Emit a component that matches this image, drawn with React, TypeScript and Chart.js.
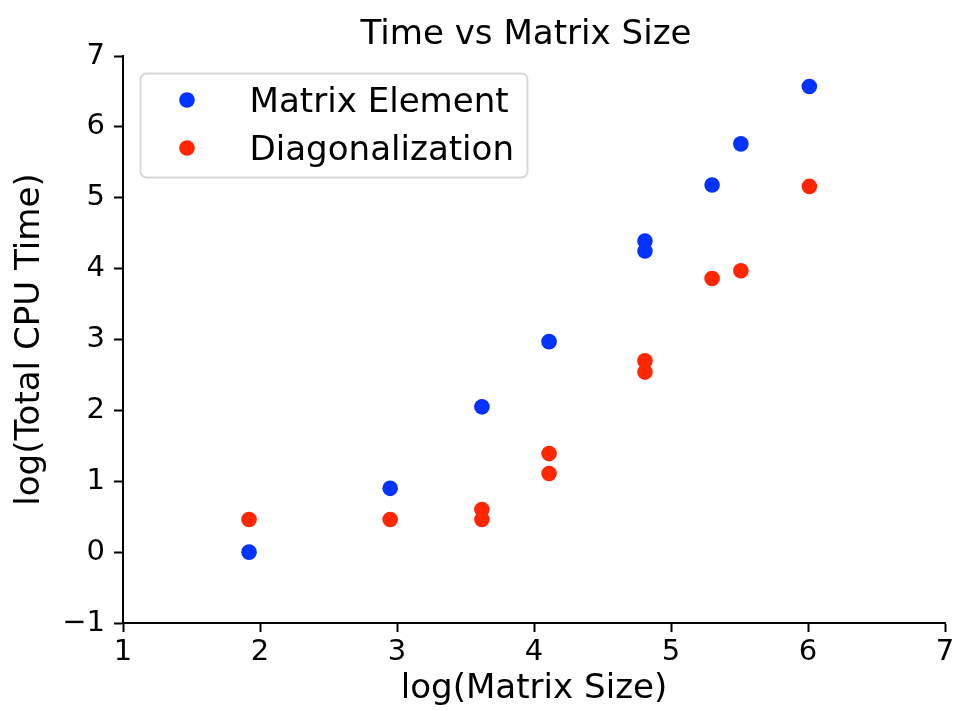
import React, { useEffect, useRef } from "react";
import { Chart, registerables } from "chart.js";

Chart.register(...registerables);

const chartTitle = "Time vs Matrix Size";
const xAxisLabel = "log(Matrix Size)";
const yAxisLabel = "log(Total CPU Time)";

const seriesNames = ["Matrix Element", "Diagonalization"];
const seriesColors = ["#0433FF", "#FF2600"];

const matrixElementX = [1.92, 2.95, 3.62, 4.11, 4.81, 4.81, 5.3, 5.51, 6.01];
const matrixElementY = [0.0, 0.9, 2.05, 2.97, 4.39, 4.25, 5.18, 5.76, 6.57];

const diagonalizationX = [1.92, 2.95, 3.62, 3.62, 4.11, 4.11, 4.81, 4.81, 5.3, 5.51, 6.01];
const diagonalizationY = [0.46, 0.46, 0.6, 0.46, 1.39, 1.11, 2.7, 2.54, 3.86, 3.97, 5.16];

const xTicks = [1, 2, 3, 4, 5, 6, 7];
const yTicks = [-1, 0, 1, 2, 3, 4, 5, 6, 7];

const FONT = "'DejaVu Sans', sans-serif";
const LABEL_SIZE = 34.1;
const TICK_SIZE = 29;

const toPoints = (xs: number[], ys: number[]) => xs.map((x, i) => ({ x, y: ys[i] }));

const overlayPlugin = {
  id: "overlay",
  afterDraw(chart: any) {
    const ctx = chart.ctx as CanvasRenderingContext2D;
    ctx.save();
    // title
    ctx.fillStyle = "#000";
    ctx.font = `${LABEL_SIZE}px ${FONT}`;
    ctx.textAlign = "center";
    ctx.textBaseline = "alphabetic";
    ctx.fillText(chartTitle, 526, 43.5);

    // legend box
    const bx = 140.5, by = 73.5, bw = 387, bh = 104, r = 6;
    ctx.beginPath();
    ctx.moveTo(bx + r, by);
    ctx.lineTo(bx + bw - r, by);
    ctx.arcTo(bx + bw, by, bx + bw, by + r, r);
    ctx.lineTo(bx + bw, by + bh - r);
    ctx.arcTo(bx + bw, by + bh, bx + bw - r, by + bh, r);
    ctx.lineTo(bx + r, by + bh);
    ctx.arcTo(bx, by + bh, bx, by + bh - r, r);
    ctx.lineTo(bx, by + r);
    ctx.arcTo(bx, by, bx + r, by, r);
    ctx.closePath();
    ctx.fillStyle = "rgba(255,255,255,0.8)";
    ctx.fill();
    ctx.strokeStyle = "rgba(204,204,204,0.8)";
    ctx.lineWidth = 1.8;
    ctx.stroke();

    const rows = [100, 148];
    seriesNames.forEach((name, i) => {
      ctx.beginPath();
      ctx.arc(187, rows[i], 7.8, 0, Math.PI * 2);
      ctx.fillStyle = seriesColors[i];
      ctx.fill();
      ctx.fillStyle = "#000";
      ctx.font = `${LABEL_SIZE}px ${FONT}`;
      ctx.textAlign = "left";
      ctx.textBaseline = "alphabetic";
      ctx.fillText(name, 249.5, rows[i] + 11.5);
    });
    ctx.restore();
  },
};

export default function App() {
  const canvasRef = useRef<HTMLCanvasElement | null>(null);

  useEffect(() => {
    if (!canvasRef.current) return;
    const chart = new Chart(canvasRef.current, {
      type: "scatter",
      data: {
        datasets: [
          {
            label: seriesNames[0],
            data: toPoints(matrixElementX, matrixElementY),
            backgroundColor: seriesColors[0],
            borderWidth: 0,
            pointRadius: 7.8,
          },
          {
            label: seriesNames[1],
            data: toPoints(diagonalizationX, diagonalizationY),
            backgroundColor: seriesColors[1],
            borderWidth: 0,
            pointRadius: 7.8,
          },
        ],
      },
      options: {
        responsive: false,
        animation: false,
        devicePixelRatio: 1,
        layout: { padding: { left: 0, right: 15, top: 56, bottom: 0 } },
        plugins: {
          legend: { display: false },
          title: { display: false },
          tooltip: { enabled: false },
        },
        scales: {
          x: {
            type: "linear",
            min: 1,
            max: 7,
            afterFit: (scale: any) => {
              scale.height = 88;
            },
            afterBuildTicks: (scale: any) => {
              scale.ticks = xTicks.map((v) => ({ value: v }));
            },
            ticks: {
              color: "#000",
              font: { family: FONT, size: TICK_SIZE },
              padding: 3,
              callback: (v: any) => String(v).replace("-", "\u2212"),
            },
            grid: {
              display: true,
              drawOnChartArea: false,
              drawTicks: true,
              tickLength: 9,
              tickWidth: 2,
              tickColor: "#000",
            },
            border: { display: true, color: "#000", width: 2 },
            title: {
              display: true,
              text: xAxisLabel,
              color: "#000",
              font: { family: FONT, size: LABEL_SIZE },
              padding: { top: 0, bottom: 1 },
            },
          },
          y: {
            type: "linear",
            min: -1,
            max: 7,
            afterFit: (scale: any) => {
              scale.width = 123;
            },
            afterBuildTicks: (scale: any) => {
              scale.ticks = yTicks.map((v) => ({ value: v }));
            },
            ticks: {
              color: "#000",
              font: { family: FONT, size: TICK_SIZE },
              padding: 9,
              callback: (v: any) => String(v).replace("-", "\u2212"),
            },
            grid: {
              display: true,
              drawOnChartArea: false,
              drawTicks: true,
              tickLength: 9,
              tickWidth: 2,
              tickColor: "#000",
            },
            border: { display: true, color: "#000", width: 2 },
            title: {
              display: true,
              text: yAxisLabel,
              color: "#000",
              font: { family: FONT, size: LABEL_SIZE },
              padding: { top: 10, bottom: 0 },
            },
          },
        },
      },
      plugins: [overlayPlugin],
    });
    return () => chart.destroy();
  }, []);

  return (
    <div style={{ position: "absolute", left: 0, top: 0, width: 960, height: 711, background: "#fff" }}>
      <canvas ref={canvasRef} width={960} height={711} />
    </div>
  );
}
